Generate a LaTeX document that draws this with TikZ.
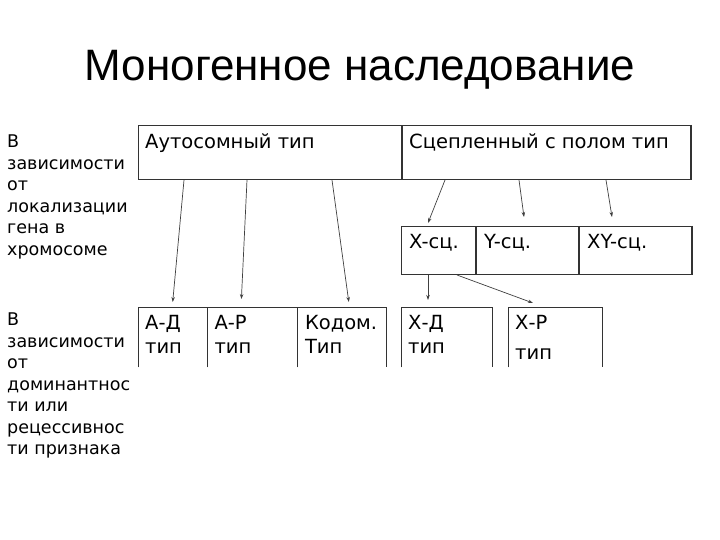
\documentclass[tikz,border=0pt]{standalone}
\usepackage{fontspec}
\setmainfont{DejaVu Sans}
\newfontfamily\titlefont{Liberation Sans}
\usetikzlibrary{arrows.meta}

\tikzset{
  cell/.style={draw=black!80, line width=1pt, inner sep=0pt, anchor=north west},
  opencell/.style={inner sep=0pt, anchor=north west},
  celltext/.style={anchor=north west, inner sep=0pt, align=left,
    font=\fontsize{19.5}{24}\selectfont},
  sidetext/.style={anchor=north west, inner sep=0pt, align=left,
    font=\fontsize{17.5}{21.5}\selectfont},
  link/.style={-{Stealth[length=5pt,width=3.5pt]}, line width=0.7pt, draw=black!75},
}

\begin{document}
\begin{tikzpicture}[x=1pt,y=-1pt]
  \useasboundingbox[fill=white] (0,0) rectangle (720,540);

  % title
  \node[font=\titlefont\fontsize{44}{50}\selectfont] (title) at (360,70) {Моногенное наследование};

  % side captions
  \node[sidetext] (loc) at (7,135) {В\\зависимости\\от\\локализации\\гена в\\хромосоме};
  \node[sidetext] (dom) at (7,313) {В\\зависимости\\от\\доминантнос\\ти или\\рецессивнос\\ти признака};

  % upper table
  \node[cell, minimum width=263pt, minimum height=54pt] (auto) at (138,125) {};
  \node[cell, minimum width=288pt, minimum height=54pt] (linked) at (auto.north east) {};
  \draw[line width=2.5pt, black!80] (linked.north east) -- (linked.south east);

  % linked subtypes
  \node[cell, minimum width=74pt, minimum height=48pt] (xlink) at (401,226) {};
  \node[cell, minimum width=102pt, minimum height=48pt] (ylink) at (xlink.north east) {};
  \node[cell, minimum width=112pt, minimum height=48pt] (xylink) at (ylink.north east) {};
  \draw[line width=2.5pt, black!80] (xylink.north east) -- (xylink.south east);

  % lower cells, open at the bottom
  \node[opencell, minimum width=69pt, minimum height=60pt] (ad) at (138,307) {};
  \node[opencell, minimum width=90pt, minimum height=60pt] (ar) at (ad.north east) {};
  \node[opencell, minimum width=88pt, minimum height=60pt] (codom) at (ar.north east) {};
  \node[opencell, minimum width=91pt, minimum height=60pt] (xd) at (401,307) {};
  \node[opencell, minimum width=94pt, minimum height=60pt] (xr) at (508,307) {};
  \foreach \c in {ad,ar,codom,xd,xr}
    \draw[line width=1pt, black!80] (\c.south west) -- (\c.north west) -- (\c.north east) -- (\c.south east);

  % cell texts
  \node[celltext] (autot) at ([xshift=7pt,yshift=-8pt]auto.north west) {Аутосомный тип};
  \node[celltext] (linkedt) at ([xshift=7pt,yshift=-8pt]linked.north west) {Сцепленный с полом тип};
  \node[celltext] (xlinkt) at ([xshift=8pt,yshift=-8pt]xlink.north west) {X-сц.};
  \node[celltext] (ylinkt) at ([xshift=8pt,yshift=-8pt]ylink.north west) {Y-сц.};
  \node[celltext] (xylinkt) at ([xshift=8pt,yshift=-8pt]xylink.north west) {XY-сц.};
  \node[celltext] (adt) at ([xshift=7pt,yshift=-8pt]ad.north west) {А-Д\\тип};
  \node[celltext] (art) at ([xshift=7pt,yshift=-8pt]ar.north west) {А-Р\\тип};
  \node[celltext] (codomt) at ([xshift=7pt,yshift=-8pt]codom.north west) {Кодом.\\Тип};
  \node[celltext] (xdt) at ([xshift=7pt,yshift=-8pt]xd.north west) {Х-Д\\тип};
  \node[celltext] (xrt) at ([xshift=7pt,yshift=-8pt]xr.north west) {Х-Р\\[6pt]тип};

  % arrows
  \draw[link] ([xshift=46pt]auto.south west) -- ([yshift=5pt]ad.north);
  \draw[link] ([xshift=109pt]auto.south west) -- ([xshift=34pt,yshift=8pt]ar.north west);
  \draw[link] ([xshift=194pt]auto.south west) -- ([xshift=51pt,yshift=5pt]codom.north west);
  \draw[link] ([xshift=43pt]linked.south west) -- ([xshift=27pt,yshift=3pt]xlink.north west);
  \draw[link] ([xshift=117pt]linked.south west) -- ([xshift=48pt,yshift=9pt]ylink.north west);
  \draw[link] ([xshift=204pt]linked.south west) -- ([xshift=33pt,yshift=9pt]xylink.north west);
  \draw[link] ([xshift=27pt]xlink.south west) -- ([xshift=27pt,yshift=7pt]xd.north west);
  \draw[link] ([xshift=56pt]xlink.south west) -- ([xshift=25pt,yshift=4pt]xr.north west);
\end{tikzpicture}
\end{document}
